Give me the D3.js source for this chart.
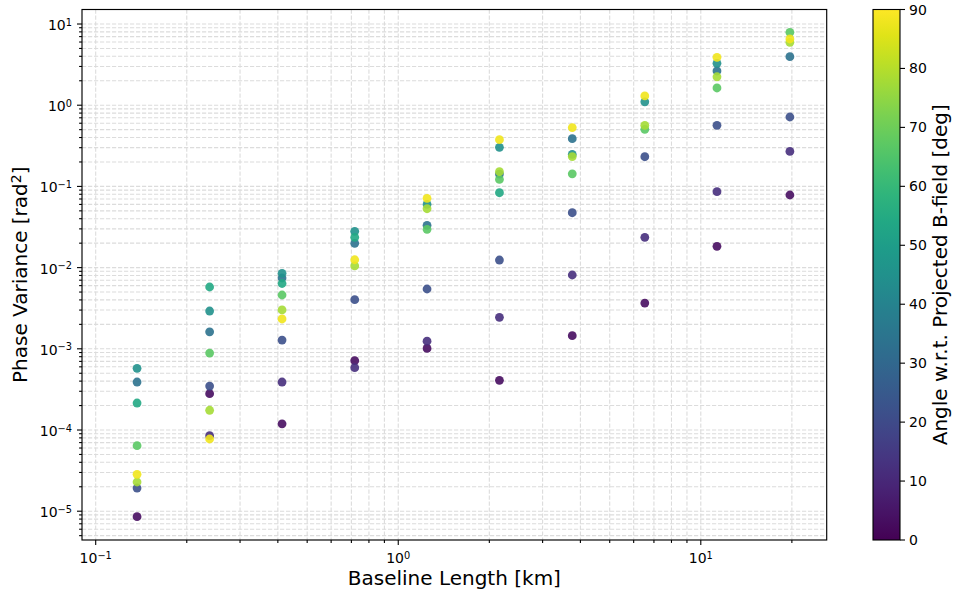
<!DOCTYPE html>
<html>
<head>
<meta charset="utf-8">
<script src="https://cdn.jsdelivr.net/npm/d3@7"></script>
<style>
  html, body { margin: 0; padding: 0; background: #fff; }
  svg { display: block; font-family: "DejaVu Sans", sans-serif; }
</style>
</head>
<body>
<svg id="chart" width="953" height="591"></svg>
<script>
// ---- data ----
const baselines = [0.137, 0.238, 0.413, 0.718, 1.245, 2.16, 3.76, 6.53, 11.31, 19.7]; // km
const angles = [3, 12, 22, 34, 45, 54, 67, 78, 88]; // deg
// phase variance [rad^2] per angle, one value per baseline (null = not visible)
const var3  = [8.56e-6, 2.80e-4, 1.19e-4, 7.14e-4, 1.01e-3, 4.09e-4, 1.45e-3, 3.66e-3, 0.0183, 0.0784];
const var12 = [null,    8.51e-5, 3.90e-4, 5.85e-4, 1.24e-3, 2.44e-3, 8.11e-3, 0.0236, 0.0861, 0.270];
const var22 = [1.93e-5, 3.48e-4, 1.28e-3, 4.03e-3, 5.45e-3, 0.0124, 0.0474, 0.232, 0.565, 0.716];
const var34 = [3.90e-4, 1.62e-3, 7.45e-3, 1.99e-2, 3.32e-2, 0.142, 0.387, null, 2.64, 3.96];
const var45 = [5.75e-4, 2.92e-3, 8.51e-3, 2.80e-2, 6.02e-2, 0.303, 0.248, 1.10, 3.28, null];
const var54 = [2.15e-4, 5.77e-3, 6.37e-3, 2.36e-2, null, 0.0836, null, null, null, null];
const var67 = [6.41e-5, 8.87e-4, 4.60e-3, null, 2.96e-2, 0.122, 0.143, 0.505, 1.63, 7.90];
const var78 = [2.29e-5, 1.75e-4, 3.01e-3, 1.05e-2, 5.31e-2, 0.152, 0.233, 0.565, 2.24, 5.95];
const var88 = [2.85e-5, 7.75e-5, 2.33e-3, 1.25e-2, 7.13e-2, 0.376, 0.531, 1.30, 3.89, 6.54];
const seriesValues = [var3, var12, var22, var34, var45, var54, var67, var78, var88];
const xDomain = [0.0901, 26.07];
const yDomain = [4.42e-6, 15.09];
const cbarTicks = [0, 10, 20, 30, 40, 50, 60, 70, 80, 90];
const xLabel = "Baseline Length [km]";
const cbarLabel = "Angle w.r.t. Projected B-field [deg]";

// ---- layout ----
const L = 82, R = 826.7, T = 9.5, B = 540;
const svg = d3.select("#chart");
const x = d3.scaleLog().domain(xDomain).range([L, R]);
const y = d3.scaleLog().domain(yDomain).range([B, T]);
const color = d3.scaleSequential(d3.interpolateViridis).domain([0, 90]);

const gridColor = "#dcdcdc";
const dash = "4.2,1.8";

// minor/major ticks
function logTicks(dom) {
  const out = [];
  const lo = Math.floor(Math.log10(dom[0])), hi = Math.ceil(Math.log10(dom[1]));
  for (let e = lo; e <= hi; e++) {
    for (let m = 1; m <= 9; m++) {
      const v = m * Math.pow(10, e);
      if (v >= dom[0] && v <= dom[1]) out.push({v, major: m === 1, e});
    }
  }
  return out;
}
const xt = logTicks(xDomain), yt = logTicks(yDomain);

// grid
const grid = svg.append("g");
grid.selectAll("line.gx").data(xt).enter().append("line")
  .attr("x1", d => x(d.v)).attr("x2", d => x(d.v)).attr("y1", T).attr("y2", B)
  .attr("stroke", gridColor).attr("stroke-width", 1.1).attr("stroke-dasharray", dash);
grid.selectAll("line.gy").data(yt).enter().append("line")
  .attr("y1", d => y(d.v)).attr("y2", d => y(d.v)).attr("x1", L).attr("x2", R)
  .attr("stroke", gridColor).attr("stroke-width", 1.1).attr("stroke-dasharray", dash);

// points
const pts = [];
angles.forEach((a, i) => {
  seriesValues[i].forEach((v, j) => { if (v != null) pts.push({b: baselines[j], v, a}); });
});
svg.append("g").selectAll("circle").data(pts).enter().append("circle")
  .attr("cx", d => x(d.b)).attr("cy", d => y(d.v)).attr("r", 4.4)
  .attr("fill", d => color(d.a)).attr("fill-opacity", 0.9);

// spines
svg.append("rect").attr("x", L).attr("y", T).attr("width", R - L).attr("height", B - T)
  .attr("fill", "none").attr("stroke", "#000").attr("stroke-width", 1.15);

// tick marks
const ax = svg.append("g").attr("stroke", "#000").attr("stroke-width", 1.1);
ax.selectAll("line.tx").data(xt).enter().append("line")
  .attr("x1", d => x(d.v)).attr("x2", d => x(d.v))
  .attr("y1", B).attr("y2", d => B + (d.major ? 5 : 2.9));
ax.selectAll("line.ty").data(yt).enter().append("line")
  .attr("y1", d => y(d.v)).attr("y2", d => y(d.v))
  .attr("x1", L).attr("x2", d => L - (d.major ? 5 : 2.9));

function powLabel(sel, e) {
  sel.append("tspan").text("10");
  sel.append("tspan").attr("dy", "-0.45em").attr("font-size", "0.7em")
    .text(e < 0 ? "\u2212" + (-e) : String(e));
}
xt.filter(d => d.major).forEach(d => {
  const t = svg.append("text").attr("x", x(d.v)).attr("y", 563)
    .attr("text-anchor", "middle").attr("font-size", 14).attr("fill", "#000");
  powLabel(t, d.e);
});
yt.filter(d => d.major).forEach(d => {
  const t = svg.append("text").attr("x", 72).attr("y", y(d.v) + 6)
    .attr("text-anchor", "end").attr("font-size", 14).attr("fill", "#000");
  powLabel(t, d.e);
});

// axis labels
svg.append("text").attr("x", (L + R) / 2).attr("y", 585).attr("text-anchor", "middle")
  .attr("font-size", 20).text(xLabel);
const yl = svg.append("text").attr("transform", `translate(27,${(T + B) / 2}) rotate(-90)`)
  .attr("text-anchor", "middle").attr("font-size", 20);
yl.append("tspan").text("Phase Variance [rad");
yl.append("tspan").attr("dy", "-0.45em").attr("font-size", "0.7em").text("2");
yl.append("tspan").attr("dy", "0.315em").text("]");

// colorbar
const cbL = 873, cbW = 27;
const cy = d3.scaleLinear().domain([0, 90]).range([B, T]);
const defs = svg.append("defs");
const grad = defs.append("linearGradient").attr("id", "vir")
  .attr("x1", 0).attr("y1", 1).attr("x2", 0).attr("y2", 0);
d3.range(0, 1.0001, 0.05).forEach(t => {
  grad.append("stop").attr("offset", t).attr("stop-color", d3.interpolateViridis(t));
});
svg.append("rect").attr("x", cbL).attr("y", T).attr("width", cbW).attr("height", B - T)
  .attr("fill", "url(#vir)").attr("stroke", "#000").attr("stroke-width", 1.1);
cbarTicks.forEach(v => {
  svg.append("line").attr("x1", cbL + cbW).attr("x2", cbL + cbW + 5)
    .attr("y1", cy(v)).attr("y2", cy(v)).attr("stroke", "#000").attr("stroke-width", 1.1);
  svg.append("text").attr("x", cbL + cbW + 9).attr("y", cy(v) + 5)
    .attr("font-size", 14).text(v);
});
svg.append("text").attr("transform", `translate(947,${(T + B) / 2}) rotate(-90)`)
  .attr("text-anchor", "middle").attr("font-size", 20).text(cbarLabel);
</script>
</body>
</html>
